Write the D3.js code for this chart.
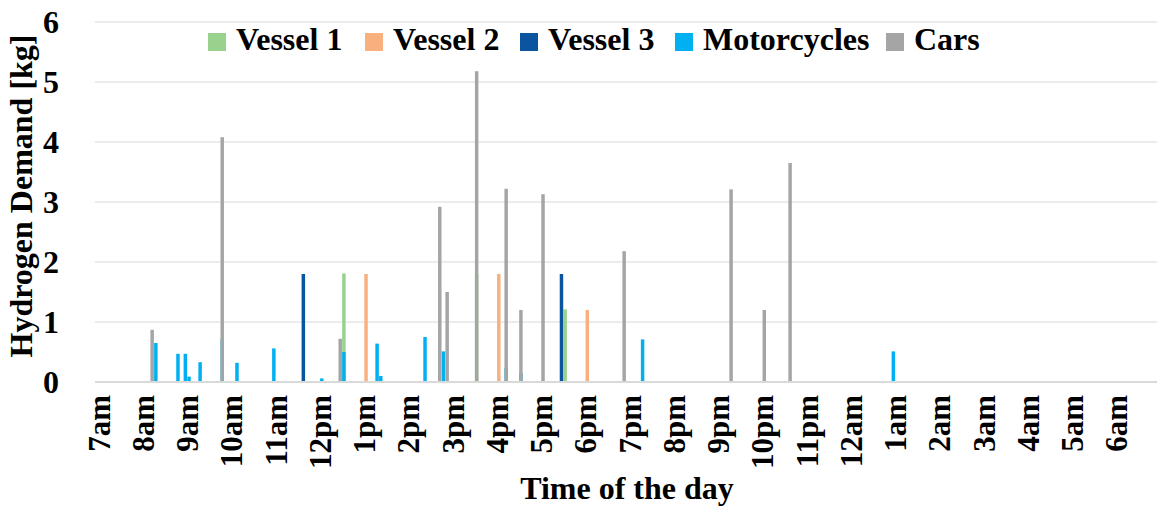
<!DOCTYPE html>
<html>
<head>
<meta charset="utf-8">
<script src="https://cdn.jsdelivr.net/npm/d3@7"></script>
<style>
  body { margin: 0; background: #fff; }
  text { font-family: "Liberation Serif", "Times New Roman", serif; font-weight: bold; fill: #000; }
</style>
</head>
<body>
<div id="chart"></div>
<script>
// series names and colours
var seriesNames = ["Vessel 1", "Vessel 2", "Vessel 3", "Motorcycles", "Cars"];
var seriesColors = ["#99d28c", "#f9b07f", "#0b54a0", "#00b0f0", "#a5a5a5"];

// demand events: clock time of the 5 min slot and kg of hydrogen
var vessel1Times = ["12:35", "15:35", "17:35"];
var vessel1Values = [1.81, 1.8, 1.21];

var vessel2Times = ["13:05", "16:05", "18:05"];
var vessel2Values = [1.8, 1.8, 1.2];

var vessel3Times = ["11:40", "17:30"];
var vessel3Values = [1.8, 1.8];

var motoTimes = ["08:20", "08:50", "09:00", "09:05", "09:20", "09:50", "10:10", "11:00", "12:05",
                 "12:35", "13:20", "13:25", "14:25", "14:50", "16:15", "16:35", "19:20", "01:00"];
var motoValues = [0.65, 0.47, 0.47, 0.09, 0.33, 0.72, 0.32, 0.56, 0.06,
                  0.5, 0.64, 0.1, 0.75, 0.51, 0.23, 0.15, 0.71, 0.51];

var carsTimes = ["08:15", "09:50", "12:30", "14:45", "14:55", "15:35", "16:15", "16:35", "17:05",
                 "18:55", "21:20", "22:05", "22:40"];
var carsValues = [0.87, 4.08, 0.72, 2.92, 1.5, 5.18, 3.22, 1.2, 3.13,
                  2.18, 3.21, 1.2, 3.65];

var hourLabels = ["7am", "8am", "9am", "10am", "11am", "12pm", "1pm", "2pm", "3pm", "4pm", "5pm", "6pm",
                  "7pm", "8pm", "9pm", "10pm", "11pm", "12am", "1am", "2am", "3am", "4am", "5am", "6am"];
var yTicks = [0, 1, 2, 3, 4, 5, 6];

var W = 1166, H = 516;
var plotLeft = 95, plotRight = 1157, plotTop = 22, plotBottom = 382;

// minutes after 7am
function toMin(t) {
    var p = t.split(":");
    return ((+p[0]) * 60 + (+p[1]) - 420 + 1440) % 1440;
}

var x = d3.scaleLinear().domain([0, 1440]).range([plotLeft, plotRight]);
var y = d3.scaleLinear().domain([0, 6]).range([plotBottom, plotTop]);
var slot = x(5) - x(0);

var svg = d3.select("#chart").append("svg").attr("width", W).attr("height", H);

// gridlines
svg.selectAll("line.grid").data(yTicks.slice(1)).enter().append("line")
    .attr("class", "grid")
    .attr("x1", plotLeft).attr("x2", plotRight)
    .attr("y1", function (d) { return y(d); })
    .attr("y2", function (d) { return y(d); })
    .attr("stroke", "#d9d9d9").attr("stroke-width", 1);

var series = [
    { times: vessel1Times, values: vessel1Values },
    { times: vessel2Times, values: vessel2Values },
    { times: vessel3Times, values: vessel3Values },
    { times: motoTimes, values: motoValues },
    { times: carsTimes, values: carsValues }
];

series.forEach(function (s, i) {
    var rows = s.times.map(function (t, j) { return { m: toMin(t), v: s.values[j] }; });
    svg.append("g").selectAll("rect").data(rows).enter().append("rect")
        .attr("x", function (d) { return x(d.m) + slot * 0.03; })
        .attr("width", slot * 0.94)
        .attr("y", function (d) { return y(d.v); })
        .attr("height", function (d) { return y(0) - y(d.v); })
        .attr("fill", seriesColors[i]);
});

// baseline
svg.append("line").attr("x1", plotLeft).attr("x2", plotRight)
    .attr("y1", plotBottom).attr("y2", plotBottom)
    .attr("stroke", "#d9d9d9").attr("stroke-width", 2);

// y tick labels
svg.selectAll("text.ytick").data(yTicks).enter().append("text")
    .attr("class", "ytick")
    .attr("x", 59)
    .attr("y", function (d) { return y(d); })
    .attr("dy", "0.35em")
    .attr("text-anchor", "end")
    .style("font-size", "32px")
    .text(function (d) { return d; });

// x tick labels, one per hour
svg.selectAll("text.xtick").data(hourLabels).enter().append("text")
    .attr("class", "xtick")
    .attr("transform", function (d, i) {
        return "translate(" + (x(i * 60) + slot / 2 + 2) + "," + 395 + ") rotate(-90)";
    })
    .attr("dy", "0.35em")
    .attr("text-anchor", "end")
    .style("font-size", "31px")
    .text(function (d) { return d; });

// axis titles
svg.append("text")
    .attr("transform", "translate(32,196) rotate(-90)")
    .attr("text-anchor", "middle")
    .style("font-size", "32px")
    .text("Hydrogen Demand [kg]");

svg.append("text")
    .attr("x", 627).attr("y", 499)
    .attr("text-anchor", "middle")
    .style("font-size", "32px")
    .text("Time of the day");

// legend
var legendX = [208, 365, 520, 675, 886];
var legend = svg.append("g").selectAll("g").data(seriesNames).enter().append("g")
    .attr("transform", function (d, i) { return "translate(" + legendX[i] + ",33)"; });
legend.append("rect").attr("width", 18).attr("height", 18)
    .attr("fill", function (d, i) { return seriesColors[i]; });
legend.append("text").attr("x", 28).attr("y", 17)
    .style("font-size", "32px")
    .text(function (d) { return d; });
</script>
</body>
</html>
